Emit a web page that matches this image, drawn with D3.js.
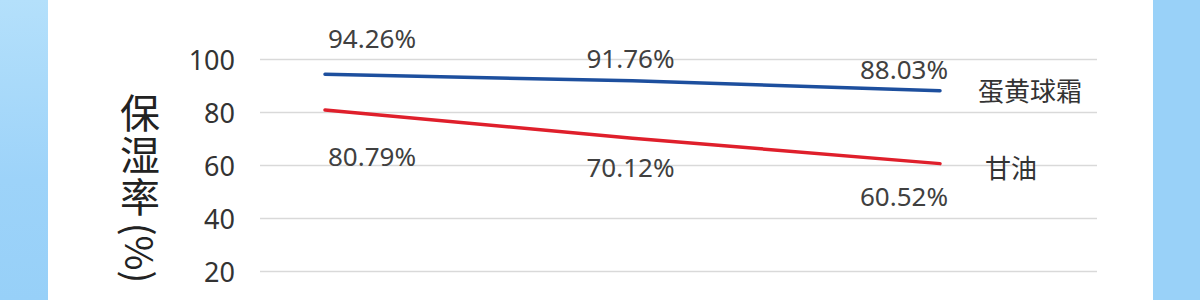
<!DOCTYPE html>
<html>
<head>
<meta charset="utf-8">
<script src="https://cdn.jsdelivr.net/npm/d3@7"></script>
<style>
  html, body { margin: 0; padding: 0; background: #fff; }
  svg { display: block; }
</style>
</head>
<body>
<svg></svg>
<script>
const categories = ["A", "B", "C"];
const seriesNames = ["蛋黄球霜", "甘油"];
const eggValues = [94.26, 91.76, 88.03];
const glycerinValues = [80.79, 70.12, 60.52];
const yTicks = [20, 40, 60, 80, 100];

const w = 1200;
const h = 300;

const svg = d3.select("svg")
    .attr("width", w)
    .attr("height", h)
    .attr("viewBox", [0, 0, w, h]);

// background: blue side strips + white panel
const defs = svg.append("defs");
const grad = defs.append("linearGradient").attr("id", "leftGrad")
    .attr("x1", 0).attr("y1", 0).attr("x2", 0).attr("y2", 1);
grad.append("stop").attr("offset", "0%").attr("stop-color", "#b4e0fb");
grad.append("stop").attr("offset", "60%").attr("stop-color", "#9dd3f9");
grad.append("stop").attr("offset", "100%").attr("stop-color", "#97d0f8");

svg.append("rect").attr("width", w).attr("height", h).attr("fill", "#ffffff");
svg.append("rect").attr("x", 0).attr("width", 48).attr("height", h).attr("fill", "url(#leftGrad)");
svg.append("rect").attr("x", 1153).attr("width", w - 1153).attr("height", h).attr("fill", "#99d1f8");

const x = d3.scalePoint().domain(categories).range([325, 940]);
const y = d3.scaleLinear().domain([0, 100]).range([324, 59]);

const gridLeft = 260, gridRight = 1097;

// y axis + gridlines
const yAxis = svg.append("g")
    .attr("transform", `translate(${gridLeft},0)`)
    .call(d3.axisLeft(y).tickValues(yTicks).tickSize(-(gridRight - gridLeft)).tickPadding(25));
yAxis.select(".domain").remove();
yAxis.selectAll(".tick line").attr("stroke", "#d9d9d9").attr("stroke-width", 1.5);
yAxis.selectAll(".tick text")
    .attr("fill", "#333")
    .attr("font-family", "'Noto Sans', sans-serif")
    .attr("font-size", "27px")
    .attr("dy", "0.38em");

// y axis title (vertical)
svg.append("text")
    .attr("x", 140)
    .attr("y", 93)
    .attr("fill", "#222")
    .attr("font-family", "'Noto Sans CJK SC', sans-serif")
    .attr("font-size", "40px")
    .style("writing-mode", "vertical-rl")
    .style("letter-spacing", "2px")
    .text("保湿率");
svg.append("text")
    .attr("transform", "translate(138,253) rotate(90)")
    .attr("text-anchor", "middle")
    .attr("dy", "0.35em")
    .attr("fill", "#222")
    .attr("font-family", "'Noto Sans CJK SC', sans-serif")
    .attr("font-size", "38px")
    .text("(%)");

const series = [
    {name: seriesNames[0], values: eggValues, color: "#1d4f9e"},
    {name: seriesNames[1], values: glycerinValues, color: "#df1f2b"}
];

// label layout (offsets from the points)
const labelDy = [[-26, -13, -12], [56, 39, 42]];
const labelAnchor = ["start", "middle", "end"];
const labelDx = [3, -2, 8];
const legendDx = [38, 45];
const legendDy = [1, 5];

const line = d3.line()
    .x((d, i) => x(categories[i]))
    .y(d => y(d));

series.forEach((s, si) => {
    svg.append("path")
        .datum(s.values)
        .attr("d", line)
        .attr("fill", "none")
        .attr("stroke", s.color)
        .attr("stroke-width", 3.5)
        .attr("stroke-linecap", "round");

    svg.selectAll(null)
        .data(s.values)
        .join("text")
        .attr("x", (d, i) => x(categories[i]) + labelDx[i])
        .attr("y", (d, i) => y(d) + labelDy[si][i])
        .attr("text-anchor", (d, i) => labelAnchor[i])
        .attr("fill", "#404040")
        .attr("font-family", "'Noto Sans', sans-serif")
        .attr("font-size", "26px")
        .text(d => d.toFixed(2) + "%");

    const last = s.values[s.values.length - 1];
    svg.append("text")
        .attr("x", x(categories[categories.length - 1]) + legendDx[si])
        .attr("y", y(last) + legendDy[si])
        .attr("dy", "0.35em")
        .attr("fill", "#333")
        .attr("font-family", "'Noto Sans CJK SC', sans-serif")
        .attr("font-size", "26px")
        .text(s.name);
});
</script>
</body>
</html>
